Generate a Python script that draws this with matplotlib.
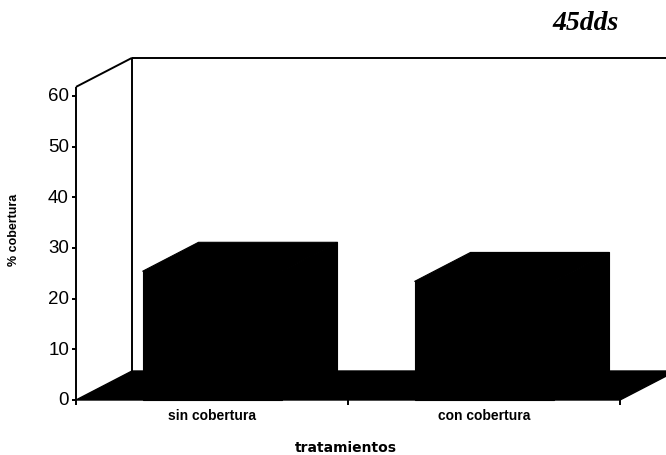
import matplotlib
matplotlib.use('Agg')
import matplotlib.pyplot as plt
from matplotlib.patches import Polygon

# datos
categorias = ['sin cobertura', 'con cobertura']
valores = [25.4, 23.4]
yticks = [0, 10, 20, 30, 40, 50, 60]
titulo = '45dds'
xlabel = 'tratamientos'
ylabel = '% cobertura'

plt.rcParams['font.family'] = ['Liberation Sans', 'DejaVu Sans']

W, H = 666, 456
fig = plt.figure(figsize=(W / 100, H / 100), dpi=100)

# origen del grafico en pixeles y escala
x0, y0 = 76, 401
px_cat = 272.0
px_val = (401 - 97) / 60.0
ax = fig.add_axes([x0 / W, (H - y0) / H, (W - x0) / W, y0 / H])
ax.set_xlim(0, (W - x0) / px_cat)
ax.set_ylim(0, y0 / px_val)
ax.axis('off')

# profundidad del efecto 3D
dx = 56 / px_cat
dy = 29 / px_val
ymax = 61.8
xmax = (W - x0) / px_cat
ancho = 139 / px_cat
k = dict(color='black', lw=1.4, clip_on=False, solid_capstyle='butt')

# paredes
ax.plot([0, 0], [-5 / px_val, ymax], **k)
ax.plot([0, dx], [ymax, ymax + dy], **k)
ax.plot([dx, dx], [dy, ymax + dy], **k)
ax.plot([dx, xmax + 0.1], [ymax + dy, ymax + dy], **k)

# piso
n = len(categorias)
ax.add_patch(Polygon([(0, 0), (n, 0), (n + dx, dy), (dx, dy)],
                     closed=True, fc='black', ec='black', lw=1, clip_on=False))

# barras
for i, v in enumerate(valores):
    l = i + 0.5 - ancho / 2
    r = l + ancho
    caras = [
        [(l, 0), (r, 0), (r, v), (l, v)],
        [(l, v), (l + dx, v + dy), (r + dx, v + dy), (r, v)],
        [(r, 0), (r + dx, dy), (r + dx, v + dy), (r, v)],
    ]
    for c in caras:
        ax.add_patch(Polygon(c, closed=True, fc='black', ec='black', lw=0.8,
                             clip_on=False))

# ticks eje y
for t in yticks:
    ax.plot([-4 / px_cat, 0], [t, t], **k)
    ax.text(-7 / px_cat, t, str(t), ha='right', va='center', fontsize=13.5)

# ticks eje x
for i in range(1, n + 1):
    ax.plot([i, i], [0, -5 / px_val], **k)
for i, c in enumerate(categorias):
    ax.text(i + 0.5, -15 / px_val, c, ha='center', va='center',
            fontsize=10, fontweight='bold')

fig.text(346 / W, 1 - 448 / H, xlabel, ha='center', va='center',
         fontsize=10, fontweight='bold', family='DejaVu Sans')
fig.text(14 / W, 1 - 230 / H, ylabel, ha='center', va='center', rotation=90,
         fontsize=9, fontweight='bold')
fig.text(586 / W, 1 - 24 / H, titulo, ha='center', va='center',
         fontsize=20, style='italic', fontweight='bold',
         family='Liberation Serif')

fig.savefig('out.png', dpi=100)
